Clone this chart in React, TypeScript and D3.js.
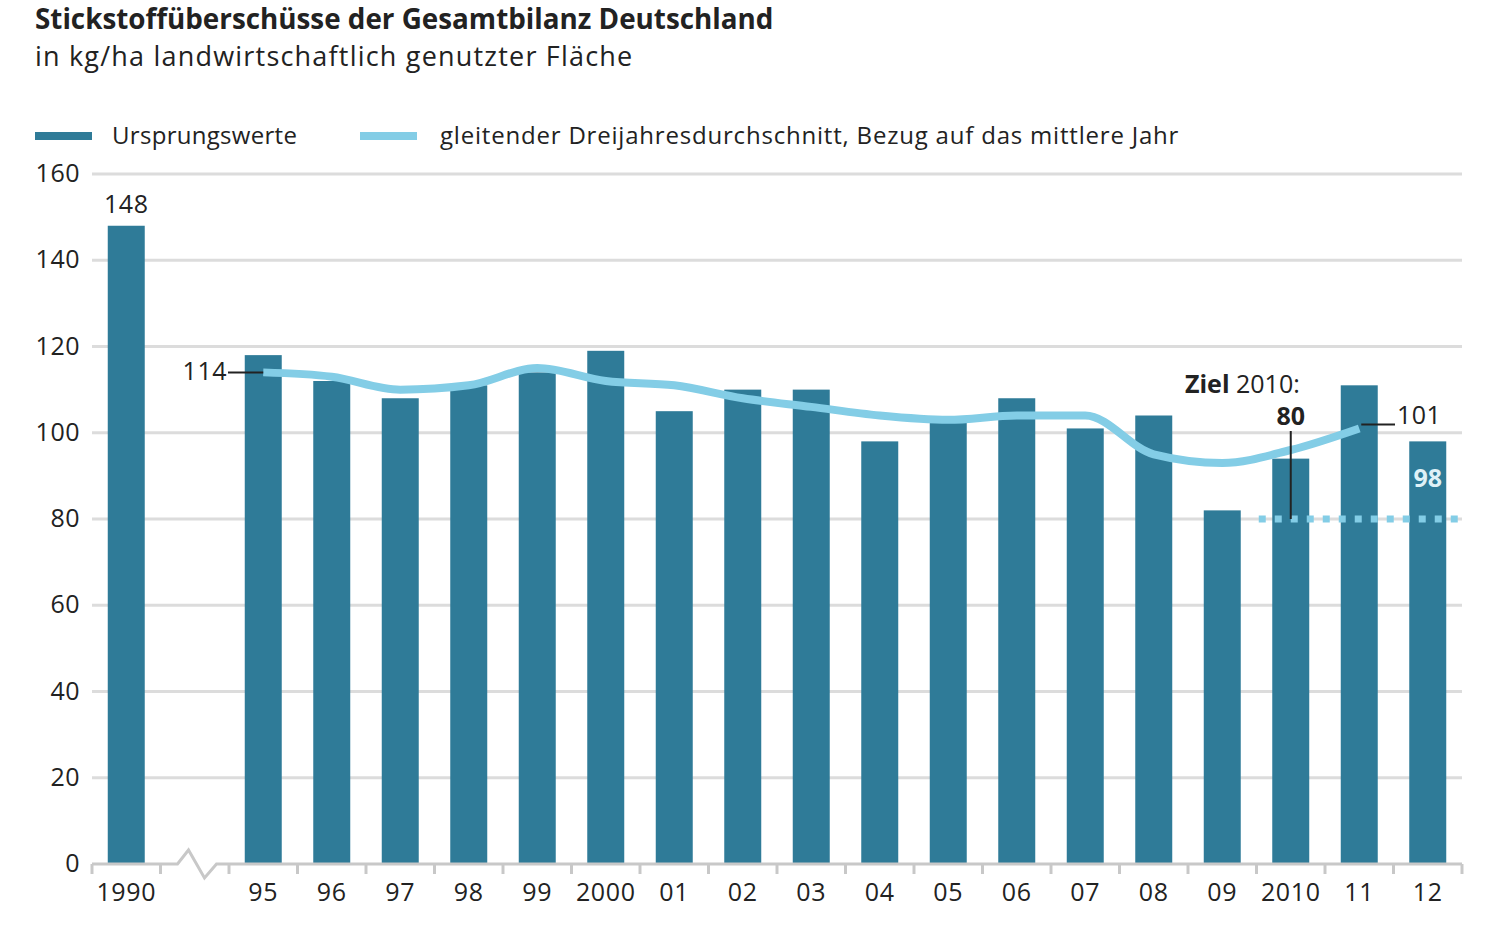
import React from 'react';
import * as d3 from 'd3';

// Ursprungswerte (kg/ha)
const years = ['1990', 'gap', '95', '96', '97', '98', '99', '2000', '01', '02', '03', '04', '05', '06', '07', '08', '09', '2010', '11', '12'];
const barYears = ['1990', '95', '96', '97', '98', '99', '2000', '01', '02', '03', '04', '05', '06', '07', '08', '09', '2010', '11', '12'];
const barValues = [148, 118, 112, 108, 111, 114, 119, 105, 110, 110, 98, 103, 108, 101, 104, 82, 94, 111, 98];

// gleitender Dreijahresdurchschnitt
const avgYears = ['95', '96', '97', '98', '99', '2000', '01', '02', '03', '04', '05', '06', '07', '08', '09', '2010', '11'];
const avgValues = [114, 113, 110, 111, 115, 112, 111, 108, 106, 104, 103, 104, 104, 95, 93, 96, 101];

const yTicks = [0, 20, 40, 60, 80, 100, 120, 140, 160];
const target = 80;

const W = 1497;
const H = 933;
const PLOT = { left: 92, right: 1462, top: 174, bottom: 864 };

const DARK = '#2f7b98';
const LIGHT = '#83cde6';
const GRID = '#dcdcdc';
const FONT = "'Open Sans', sans-serif";

export default function App() {
  const x = d3.scaleBand<string>().domain(years).range([PLOT.left, PLOT.right]).paddingInner(0.46).paddingOuter(0.23);
  const y = d3.scaleLinear().domain([0, 160]).range([PLOT.bottom, PLOT.top]);
  const step = x.step();
  const cx = (k: string) => (x(k) ?? 0) + x.bandwidth() / 2;
  const slotStart = (i: number) => PLOT.left + i * step;

  const line = d3.line<number>()
    .x((_, i) => cx(avgYears[i]))
    .y(d => y(d))
    .curve(d3.curveMonotoneX);

  // Achse mit Bruch zwischen 1990 und 95
  const b0 = slotStart(1);
  const axisY = y(0);
  const axisPath = `M${PLOT.left},${axisY}H${b0 + 17}L${b0 + 28},${axisY - 14}L${b0 + 44},${axisY + 14}L${b0 + 56},${axisY}H${PLOT.right}`;

  const x2010 = cx('2010');
  const x11 = cx('11');
  const x95 = cx('95');

  return (
    <svg width={W} height={H} style={{ position: 'absolute', left: 0, top: 0, background: '#fff' }} fontFamily={FONT}>
      <text x={35} y={29} fontSize={27.8} fontWeight="bold" fill="#222">Stickstoffüberschüsse der Gesamtbilanz Deutschland</text>
      <text x={35} y={66} fontSize={27} letterSpacing={1.2} fill="#222">in kg/ha landwirtschaftlich genutzter Fläche</text>

      {/* Legende */}
      <line x1={35} x2={92} y1={136} y2={136} stroke={DARK} strokeWidth={8} />
      <text x={112} y={144} fontSize={24} letterSpacing={0.3} fill="#222">Ursprungswerte</text>
      <line x1={360} x2={417} y1={136} y2={136} stroke={LIGHT} strokeWidth={8} />
      <text x={440} y={144} fontSize={24} letterSpacing={0.8} fill="#222">gleitender Dreijahresdurchschnitt, Bezug auf das mittlere Jahr</text>

      {/* Gitter */}
      {yTicks.filter(t => t > 0).map(t => (
        <line key={t} x1={PLOT.left} x2={PLOT.right} y1={y(t)} y2={y(t)} stroke={GRID} strokeWidth={3} />
      ))}
      {yTicks.map(t => (
        <text key={t} x={80} y={y(t) + 8} textAnchor="end" fontSize={25} letterSpacing={0.5} fill="#222">{t}</text>
      ))}

      {/* Balken */}
      {barYears.map((k, i) => (
        <rect key={k} x={x(k)} y={y(barValues[i])} width={x.bandwidth()} height={y(0) - y(barValues[i])} fill={DARK} />
      ))}

      {/* Ziel 2010 */}
      <line x1={x2010 - 32} x2={PLOT.right} y1={y(target)} y2={y(target)} stroke={LIGHT} strokeWidth={7} strokeDasharray="7 9" />

      {/* gleitender Durchschnitt */}
      <path d={line(avgValues) ?? ''} fill="none" stroke={LIGHT} strokeWidth={8} strokeLinejoin="round" />

      {/* x-Achse */}
      <path d={axisPath} fill="none" stroke="#c8c8c8" strokeWidth={3} />
      {d3.range(years.length + 1).map(i => (
        <line key={i} x1={slotStart(i)} x2={slotStart(i)} y1={axisY} y2={axisY + 10} stroke="#c8c8c8" strokeWidth={3} />
      ))}
      {barYears.map(k => (
        <text key={k} x={cx(k)} y={901} textAnchor="middle" fontSize={25} letterSpacing={0.6} fill="#222">{k}</text>
      ))}

      {/* Beschriftungen */}
      <text x={cx('1990')} y={213} textAnchor="middle" fontSize={25} letterSpacing={0.5} fill="#222">148</text>
      <line x1={228} x2={x95} y1={y(avgValues[0])} y2={y(avgValues[0])} stroke="#222" strokeWidth={2} />
      <text x={227} y={y(avgValues[0]) + 8} textAnchor="end" fontSize={25} letterSpacing={0.5} fill="#222">114</text>
      <line x1={x11 + 2} x2={1395} y1={y(101) - 4} y2={y(101) - 4} stroke="#222" strokeWidth={2} />
      <text x={1397} y={y(101) - 4} fontSize={25} letterSpacing={0.5} fill="#222">101</text>
      <text x={cx('12')} y={y(98) + 46} textAnchor="middle" fontSize={25} fontWeight="bold" fill="#dff1f7">98</text>
      <text x={1185} y={393} fontSize={25} fill="#222"><tspan fontWeight="bold">Ziel</tspan> 2010:</text>
      <text x={x2010} y={425} textAnchor="middle" fontSize={25} fontWeight="bold" fill="#222">80</text>
      <line x1={x2010} x2={x2010} y1={431} y2={y(target)} stroke="#222" strokeWidth={2} />
    </svg>
  );
}
